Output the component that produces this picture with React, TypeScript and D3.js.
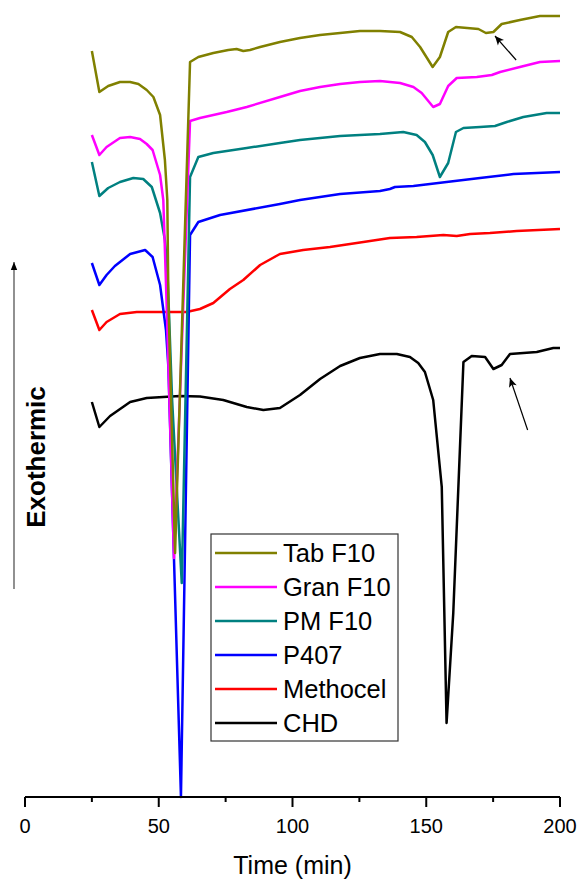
import React from "react";
import * as d3 from "d3";

type Pt = [number, number];

// Time (min), relative heat flow (a.u., curves offset)
const tabF10: Pt[] = [
  [25, 74.6], [27.8, 70.5], [31.1, 71.1], [35.5, 71.5], [39.3, 71.5], [42.4, 71.3], [45.5, 70.7],
  [48.0, 70.0], [50.5, 68.2], [52.3, 63.7], [53.2, 59.7], [53.6, 49.7], [56.1, 24.4], [61.7, 73.5],
  [64.8, 74.0], [70.4, 74.4], [76.0, 74.7], [79.1, 74.8], [81.6, 74.6], [84.1, 74.7], [87.9, 75.0],
  [95.3, 75.5], [102.8, 75.9], [110.3, 76.2], [117.8, 76.4], [125.2, 76.6], [132.7, 76.6],
  [140.2, 76.5], [144.6, 76.0], [147.7, 75.0], [152.4, 73.0], [155.1, 74.0], [158.2, 76.5],
  [161.1, 77.0], [169.5, 76.8], [172.3, 76.4], [175.1, 76.5], [178.2, 77.3], [185.0, 77.7],
  [192.5, 78.1], [200, 78.1],
];

const granF10: Pt[] = [
  [25, 66.2], [27.8, 64.2], [30.5, 65.0], [35.5, 65.9], [39.3, 66.0], [43.0, 65.8], [45.5, 65.3],
  [47.7, 64.7], [50.5, 62.2], [51.7, 59.7], [52.9, 49.7], [55.7, 23.9], [61.7, 67.6], [65.4, 67.9],
  [75.4, 68.5], [82.9, 69.0], [95.3, 70.0], [102.8, 70.6], [110.3, 71.0], [117.8, 71.3],
  [125.2, 71.5], [132.7, 71.6], [140.2, 71.4], [145.2, 71.0], [148.3, 70.4], [152.6, 69.0],
  [155.1, 69.3], [158.2, 71.1], [161.4, 71.9], [168.9, 72.0], [174.5, 72.2], [177.6, 72.5],
  [185.0, 73.0], [192.5, 73.5], [200, 73.6],
];

const pmF10: Pt[] = [
  [25, 63.5], [27.8, 60.1], [31.1, 60.9], [35.5, 61.5], [40.5, 61.9], [44.2, 61.8], [47.4, 61.0],
  [50.5, 58.4], [52.3, 55.7], [53.2, 53.0], [55.0, 39.7], [58.6, 21.4], [61.7, 62.0], [64.8, 64.0],
  [70.4, 64.4], [82.9, 64.9], [95.3, 65.4], [102.8, 65.7], [110.3, 65.9], [117.8, 66.1],
  [125.2, 66.2], [132.7, 66.3], [141.4, 66.5], [146.4, 66.2], [149.5, 65.5], [152.4, 64.2],
  [155.1, 62.0], [158.2, 63.4], [161.1, 66.5], [163.9, 66.9], [170.1, 67.0], [175.7, 67.1],
  [180.1, 67.5], [186.3, 68.0], [195.0, 68.4], [200, 68.4],
];

const p407: Pt[] = [
  [25, 53.4], [27.8, 51.2], [30.5, 52.2], [33.6, 53.1], [39.3, 54.3], [44.9, 54.7], [47.7, 54.0],
  [50.5, 51.2], [52.7, 46.7], [53.6, 43.0], [58.3, 0], [61.7, 56.2], [64.8, 57.5], [72.9, 58.2],
  [95.3, 59.3], [102.8, 59.7], [117.8, 60.3], [132.7, 60.6], [136.4, 60.8], [138.3, 61.0],
  [145.2, 61.1], [157.6, 61.5], [170.1, 61.9], [182.6, 62.3], [200, 62.5],
];

const methocel: Pt[] = [
  [25, 48.7], [27.8, 46.7], [30.5, 47.5], [35.5, 48.3], [41.8, 48.5], [51.7, 48.5], [60.4, 48.5],
  [65.4, 48.8], [70.4, 49.4], [76.6, 50.8], [81.6, 51.7], [87.9, 53.2], [95.3, 54.3], [104.0, 54.7],
  [114.0, 55.0], [126.5, 55.5], [136.4, 55.9], [146.4, 56.0], [156.4, 56.2], [161.4, 56.1],
  [166.4, 56.3], [173.8, 56.4], [183.8, 56.6], [200, 56.8],
];

const chd: Pt[] = [
  [25, 39.5], [27.8, 37.0], [31.8, 38.1], [39.3, 39.5], [45.5, 39.9], [57.9, 40.1], [65.4, 40.05],
  [74.1, 39.7], [82.9, 39.0], [89.1, 38.7], [95.3, 38.9], [102.8, 40.2], [110.3, 41.8],
  [117.8, 43.1], [125.2, 43.9], [132.7, 44.3], [139.0, 44.3], [143.9, 44.0], [147.0, 43.4],
  [149.5, 42.5], [152.6, 39.7], [155.8, 31.0], [157.6, 7.4], [160.1, 18.4], [163.9, 43.5],
  [167.0, 44.1], [172.0, 44.0], [175.1, 42.8], [178.2, 43.2], [181.3, 44.3], [191.3, 44.5],
  [197.5, 44.9], [200, 44.9],
];

const seriesNames = ["Tab F10", "Gran F10", "PM F10", "P407", "Methocel", "CHD"];
const seriesColors = ["#808000", "#FF00FF", "#008080", "#0000FF", "#FF0000", "#000000"];
const seriesData = [tabF10, granF10, pmF10, p407, methocel, chd];

const majorTicks = [0, 50, 100, 150, 200];
const minorTicks = [25, 75, 125, 175];

// annotation arrows: [tail, tip]
const tabArrow: Pt[] = [[183.6, 73.7], [175.7, 76.1]];
const chdArrow: Pt[] = [[187.9, 36.7], [181.3, 41.9]];

const W = 581;
const H = 879;
const FONT = "'Liberation Sans', Arial, sans-serif";

export default function App() {
  const x = d3.scaleLinear().domain([0, 200]).range([25, 560]);
  const y = d3.scaleLinear().domain([0, 79.7]).range([797, 0]);
  const line = d3
    .line<Pt>()
    .x((d) => x(d[0]))
    .y((d) => y(d[1]))
    .curve(d3.curveLinear);

  const drawOrder = [5, 4, 3, 2, 1, 0];
  const legendX = 211;
  const legendY = 534;
  const legendRow = 34;

  return (
    <div style={{ position: "absolute", left: 0, top: 0 }}>
      <svg width={W} height={H} style={{ display: "block", background: "#fff" }}>
        <defs>
          <marker id="ah" viewBox="0 0 10 10" refX="10" refY="5" markerWidth="11" markerHeight="9" orient="auto" markerUnits="userSpaceOnUse">
            <path d="M0,0.5 L10,5 L0,9.5 L2.5,5 Z" fill="#000" />
          </marker>
          <marker id="ah2" viewBox="0 0 10 10" refX="10" refY="5" markerWidth="11" markerHeight="8" orient="auto" markerUnits="userSpaceOnUse">
            <path d="M0,1 L10,5 L0,9 Z" fill="#000" />
          </marker>
        </defs>

        {drawOrder.map((i) => (
          <path
            key={seriesNames[i]}
            d={line(seriesData[i]) || ""}
            fill="none"
            stroke={seriesColors[i]}
            strokeWidth={2.5}
            strokeLinejoin="round"
          />
        ))}

        {[tabArrow, chdArrow].map((a, i) => (
          <line
            key={i}
            x1={x(a[0][0])}
            y1={y(a[0][1])}
            x2={x(a[1][0])}
            y2={y(a[1][1])}
            stroke="#000"
            strokeWidth={1.2}
            markerEnd="url(#ah)"
          />
        ))}

        {/* X axis */}
        <line x1={x(0)} x2={x(200)} y1={797} y2={797} stroke="#000" strokeWidth={2} />
        {majorTicks.map((t) => (
          <g key={t}>
            <line x1={x(t)} x2={x(t)} y1={797} y2={807} stroke="#000" strokeWidth={2} />
            <text x={x(t)} y={833} textAnchor="middle" fontFamily={FONT} fontSize={20} fill="#000">
              {t}
            </text>
          </g>
        ))}
        {minorTicks.map((t) => (
          <line key={t} x1={x(t)} x2={x(t)} y1={797} y2={802} stroke="#000" strokeWidth={2} />
        ))}
        <text x={x(100)} y={874} textAnchor="middle" fontFamily={FONT} fontSize={25} fill="#000">
          Time (min)
        </text>

        {/* Exothermic arrow */}
        <line x1={14} x2={14} y1={589} y2={262} stroke="#555" strokeWidth={1.3} markerEnd="url(#ah2)" />
        <text
          transform="translate(45,457) rotate(-90)"
          textAnchor="middle"
          fontFamily={FONT}
          fontSize={26}
          fontWeight="bold"
          fill="#000"
        >
          Exothermic
        </text>

        {/* Legend */}
        <rect x={legendX} y={legendY} width={187} height={207} fill="#fff" stroke="#333" strokeWidth={1.2} />
        {seriesNames.map((n, i) => (
          <g key={n}>
            <line
              x1={legendX + 4}
              x2={legendX + 66}
              y1={legendY + 19 + i * legendRow}
              y2={legendY + 19 + i * legendRow}
              stroke={seriesColors[i]}
              strokeWidth={2.5}
            />
            <text
              x={legendX + 72}
              y={legendY + 19 + i * legendRow + 9}
              fontFamily={FONT}
              fontSize={25.5}
              fill="#000"
            >
              {n}
            </text>
          </g>
        ))}
      </svg>
    </div>
  );
}
